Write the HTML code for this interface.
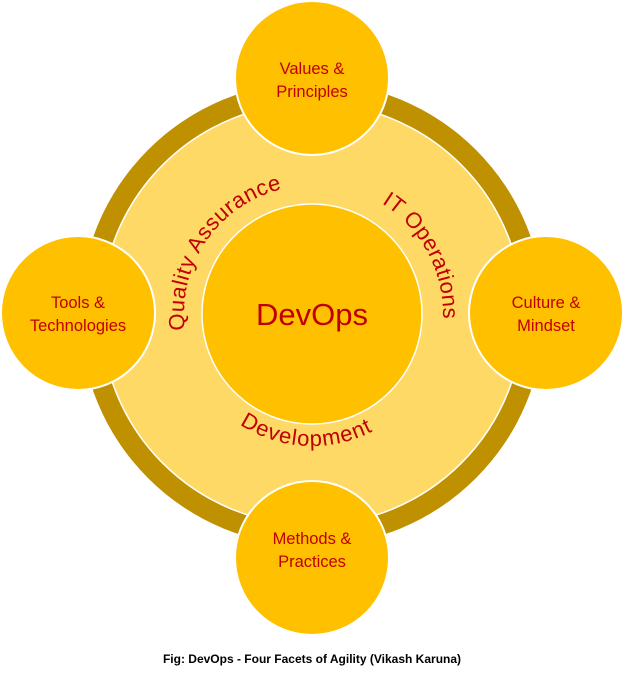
<!DOCTYPE html>
<html><head><style>
html,body{margin:0;padding:0;background:#fff;}
svg{display:block;}
</style></head><body>
<svg width="625" height="679" viewBox="0 0 625 679" xmlns="http://www.w3.org/2000/svg" font-family="'Liberation Sans', sans-serif">
<defs>
<path id="topArc" d="M 186 336 A 128 128 0 1 1 438 336"/>
<path id="topArc2" d="M 183 337 A 131 131 0 1 1 441 337"/>
<path id="botArc" d="M 180 314 A 132 132 0 0 0 444 314"/>
</defs>
<circle cx="312" cy="314" r="232" fill="#bf9000"/>
<circle cx="312" cy="314" r="211" fill="#ffd966" stroke="#fff" stroke-width="1.5"/>
<circle cx="312" cy="314" r="110" fill="#ffc000" stroke="#fff" stroke-width="1.5"/>
<text x="312" y="325" font-size="31" fill="#c00000" text-anchor="middle">DevOps</text>

<text font-size="22" fill="#c00000" letter-spacing="0.6"><textPath href="#topArc" startOffset="6">Quality Assurance</textPath></text>
<text font-size="22" fill="#c00000" letter-spacing="0.3"><textPath href="#topArc2" startOffset="302">IT Operations</textPath></text>
<text font-size="22" fill="#c00000" letter-spacing="1" text-anchor="middle"><textPath href="#botArc" startOffset="48.5%">Development</textPath></text>

<g fill="#ffc000" stroke="#fff" stroke-width="2">
<circle cx="312" cy="78" r="77"/>
<circle cx="78" cy="313" r="77"/>
<circle cx="546" cy="313" r="77"/>
<circle cx="312" cy="558" r="77"/>
</g>
<g font-size="16.5" fill="#c00000" text-anchor="middle">
<text x="312" y="74">Values &amp;</text><text x="312" y="97">Principles</text>
<text x="78" y="308">Tools &amp;</text><text x="78" y="331">Technologies</text>
<text x="546" y="308">Culture &amp;</text><text x="546" y="331">Mindset</text>
<text x="312" y="544">Methods &amp;</text><text x="312" y="567">Practices</text>
</g>
<text x="312" y="663" font-size="12" font-weight="bold" fill="#000" text-anchor="middle">Fig: DevOps - Four Facets of Agility (Vikash Karuna)</text>
</svg>
</body></html>
